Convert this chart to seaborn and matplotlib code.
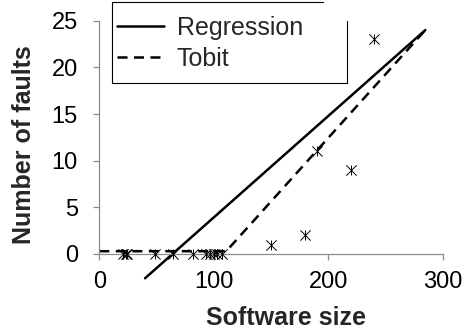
import matplotlib
matplotlib.use("Agg")
import matplotlib.pyplot as plt
from matplotlib.lines import Line2D
import seaborn as sns

# Observed modules: size vs. number of faults
software_size = [21, 23, 24, 49, 64, 82, 93, 97, 100, 103, 107, 150, 180, 190, 220, 240]
faults = [0, 0, 0, 0, 0, 0, 0, 0, 0, 0, 0, 1, 2, 11, 9, 23]

# Fitted models (end points of the fitted lines)
regression_x = [40, 285]
regression_y = [-2.6, 24.0]
tobit_x = [0, 111, 285]
tobit_y = [0.3, 0.3, 24.0]

x_ticks = [0, 100, 200, 300]
y_ticks = [0, 5, 10, 15, 20, 25]

sns.set_theme(style="white")
plt.rcParams["font.family"] = ["Liberation Sans", "DejaVu Sans"]

W, H = 472, 336
fig = plt.figure(figsize=(W / 100, H / 100), dpi=100)
ax = fig.add_axes([99.3 / W, (H - 254) / H, 343.2 / W, 233.3 / H])

sns.lineplot(x=regression_x, y=regression_y, ax=ax, color="black", lw=1.8,
             clip_on=False, label="Regression", legend=False)
sns.lineplot(x=tobit_x, y=tobit_y, ax=ax, color="black", lw=1.8,
             linestyle=(0, (4, 2.6)), clip_on=False, label="Tobit", legend=False)

for m in ["x", "|"]:
    sns.scatterplot(x=software_size, y=faults, ax=ax, marker=m, s=55,
                    color="black", linewidth=0.7, clip_on=False, zorder=4,
                    legend=False)

ax.set_xlim(0, 300)
ax.set_ylim(0, 25)
ax.set_xticks(x_ticks)
ax.set_yticks(y_ticks)

axis_gray = "#8c8c8c"
for side in ["top", "right"]:
    ax.spines[side].set_visible(False)
for side in ["left", "bottom"]:
    ax.spines[side].set_color(axis_gray)
    ax.spines[side].set_linewidth(0.9)
ax.tick_params(axis="both", which="major", bottom=True, left=True,
               direction="out", length=4.5, width=0.9, color=axis_gray,
               labelsize=17, labelcolor="black")
ax.tick_params(axis="y", pad=11)
ax.tick_params(axis="x", pad=8)

ax.set_xlabel("Software size", fontsize=18, fontweight="bold")
ax.set_ylabel("Number of faults", fontsize=18, fontweight="bold")
ax.xaxis.set_label_coords(0.544, -0.225)
ax.yaxis.set_label_coords(-0.185, 0.47)

handles = ax.get_lines()[:2]
ax.legend(handles, ["Regression", "Tobit"], loc="upper left",
          bbox_to_anchor=(116.7 / W, (H - 15.5) / H), bbox_transform=fig.transFigure,
          frameon=False, fontsize=18, handlelength=1.9, handletextpad=0.5,
          labelspacing=0.28, borderpad=0, borderaxespad=0)

# legend frame
px = lambda x: x / W
py = lambda y: (H - y) / H
segments = [
    ([111.7, 111.7], [1.7, 82.7]),
    ([111.7, 323.0], [1.7, 1.7]),
    ([347.0, 347.0], [20.5, 82.7]),
    ([111.7, 347.0], [82.7, 82.7]),
]
for xs, ys in segments:
    fig.add_artist(Line2D([px(v) for v in xs], [py(v) for v in ys],
                          transform=fig.transFigure, color="black", lw=0.8))

fig.savefig("out.png", dpi=100)
